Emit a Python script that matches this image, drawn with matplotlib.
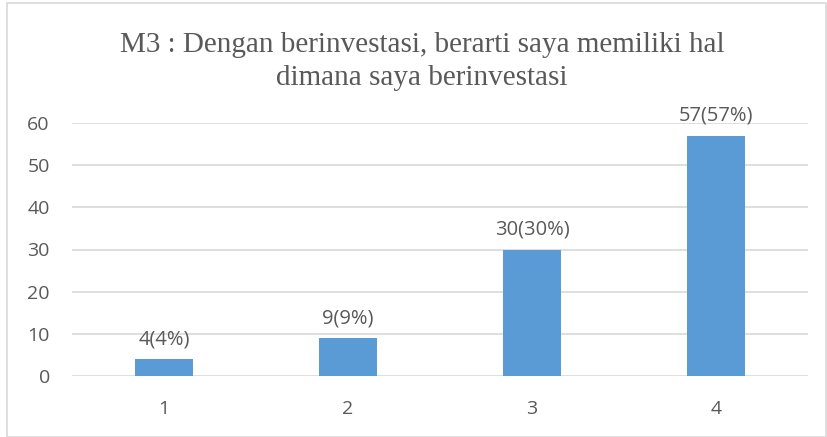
import matplotlib.pyplot as plt
from matplotlib.patches import Rectangle

# data
categories = ['1', '2', '3', '4']
counts = [4, 9, 30, 57]
labels = ['4(4%)', '9(9%)', '30(30%)', '57(57%)']

BAR = '#5B9BD5'
GRID = '#D9D9D9'
TEXT = '#595959'

fig = plt.figure(figsize=(8.27, 4.37), dpi=100)
fig.patch.set_facecolor('white')

# chart border
fig.patches.append(Rectangle((7 / 827, 0), 1 - 8 / 827, 1 - 3 / 437,
                             transform=fig.transFigure, fill=False,
                             edgecolor='#D9D9D9', linewidth=1.2))

ax = fig.add_axes([72 / 827, 1 - 376 / 437, 736 / 827, 253 / 437])
x = range(len(categories))
ax.bar(x, counts, width=0.315, color=BAR, zorder=3)

for xi, v, lab in zip(x, counts, labels):
    ax.annotate(lab, (xi, v), xytext=(0, 7), textcoords='offset points',
                ha='center', va='bottom', fontsize=14.5, color=TEXT,
                family='Open Sans')

ax.set_xlim(-0.5, 3.5)
ax.set_ylim(0, 60)
ax.set_yticks(range(0, 61, 10))
ax.set_xticks(list(x))
ax.set_xticklabels(categories)
ax.grid(axis='y', color=GRID, linewidth=1.2, zorder=0)
for s in ax.spines.values():
    s.set_visible(False)
ax.tick_params(length=0, colors=TEXT, labelsize=14)
ax.tick_params(axis='x', pad=17)
ax.tick_params(axis='y', pad=16)
for t in ax.get_xticklabels() + ax.get_yticklabels():
    t.set_family('Open Sans')

tx = 422 / 827
fig.text(tx, 1 - 45 / 437, 'M3 : Dengan berinvestasi, berarti saya memiliki hal',
         ha='center', va='center', fontsize=21, color=TEXT, family='Liberation Serif')
fig.text(tx, 1 - 78 / 437, 'dimana saya berinvestasi',
         ha='center', va='center', fontsize=21, color=TEXT, family='Liberation Serif')

fig.savefig('out.png', dpi=100)
